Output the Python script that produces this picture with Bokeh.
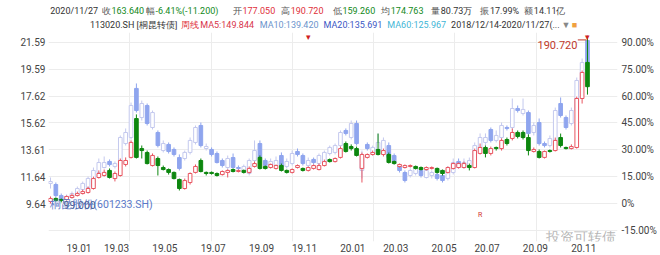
from bokeh.plotting import figure
from bokeh.layouts import column
from bokeh.models import (Range1d, LinearAxis, FixedTicker, Label, ColumnDataSource,
                          CustomJSTickFormatter, Grid)
from bokeh.embed import file_html
from bokeh.resources import INLINE

# ---------------- data ----------------
bond_open = [100.1, 101.8, 101.2, 101.2, 102.3, 103.4, 104.5, 105.1, 107.3, 113.4,
             114.5, 117.3, 112.8, 114.5, 120.6, 124.5, 146.0, 129.4, 127.2, 120.0,
             123.9, 118.9, 117.8, 116.2, 112.3, 107.3, 110.6, 116.2, 122.8, 116.2,
             116.2, 115.6, 115.0, 116.2, 117.8, 116.7, 117.3, 116.2, 119.5, 124.5,
             119.5, 118.9, 118.4, 120.0, 117.3, 116.2, 118.9, 118.4, 117.3, 118.4,
             117.8, 120.0, 123.3, 122.2, 124.5, 132.2, 130.5, 129.4, 118.4, 124.5,
             126.1, 128.9, 126.1, 126.1, 122.2, 119.5, 118.9, 119.5, 119.5, 118.9,
             117.8, 118.4, 118.4, 117.3, 116.2, 118.4, 118.9, 118.9, 120.0, 118.9,
             126.7, 130.0, 126.7, 130.0, 129.4, 134.4, 135.0, 138.3, 138.3, 135.5,
             127.8, 127.8, 124.5, 128.3, 128.3, 135.5, 130.0, 129.4, 130.0, 157.1,
             177.05]
bond_close = [101.8, 100.7, 100.7, 102.9, 103.4, 104.5, 105.6, 107.3, 112.8, 115.6,
              116.2, 113.4, 115.6, 122.8, 122.8, 132.8, 124.5, 128.3, 121.1, 125.6,
              120.0, 117.8, 116.2, 112.8, 107.3, 111.7, 115.6, 119.5, 116.7, 115.6,
              115.6, 114.5, 116.7, 117.3, 116.7, 117.3, 116.2, 118.4, 121.1, 118.4,
              118.4, 120.6, 120.0, 117.3, 116.2, 117.8, 120.0, 117.3, 118.9, 120.0,
              120.0, 122.2, 122.2, 123.9, 129.4, 127.8, 129.4, 125.6, 126.1, 126.1,
              127.2, 126.1, 128.3, 121.7, 121.1, 120.6, 120.0, 120.0, 118.4, 117.8,
              118.9, 118.9, 116.2, 115.6, 118.9, 121.1, 121.1, 121.1, 118.9, 128.3,
              130.0, 126.7, 129.4, 129.4, 133.9, 132.2, 138.3, 136.1, 135.5, 128.3,
              128.9, 124.5, 127.8, 127.8, 133.9, 131.1, 129.4, 130.5, 157.1, 171.5,
              163.64]
bond_high = [102.9, 102.3, 101.8, 103.4, 104.5, 105.6, 106.7, 108.4, 113.9, 117.3,
             117.8, 118.4, 116.7, 123.9, 124.5, 133.9, 148.3, 131.1, 128.3, 126.7,
             125.0, 120.0, 118.4, 116.7, 112.8, 112.8, 116.2, 120.6, 123.9, 116.7,
             116.7, 116.2, 117.3, 117.8, 118.4, 117.8, 117.8, 119.5, 122.2, 125.6,
             120.0, 121.1, 120.6, 121.1, 117.8, 118.4, 120.6, 118.9, 119.5, 120.6,
             121.1, 123.3, 123.9, 124.5, 130.5, 133.3, 131.7, 130.5, 127.2, 126.7,
             128.3, 137.7, 129.4, 127.2, 122.8, 121.1, 120.6, 120.6, 120.0, 119.5,
             119.5, 119.5, 118.9, 117.8, 119.5, 121.7, 121.7, 122.2, 121.1, 129.4,
             132.2, 131.1, 130.5, 130.5, 135.0, 135.5, 140.5, 139.4, 139.4, 137.2,
             130.0, 128.9, 128.3, 128.9, 135.5, 137.7, 130.5, 131.7, 158.2, 172.6,
             190.72]
bond_low = [99.0, 100.1, 99.6, 100.7, 101.8, 102.9, 104.0, 104.5, 106.7, 112.8,
            113.9, 112.8, 111.2, 113.9, 119.5, 123.9, 123.9, 123.9, 120.6, 119.5,
            114.5, 117.3, 115.0, 112.3, 106.2, 106.7, 109.5, 115.6, 116.2, 114.5,
            115.0, 113.9, 114.5, 113.4, 116.2, 116.2, 115.6, 115.6, 118.9, 117.8,
            117.8, 118.4, 117.8, 116.7, 115.6, 115.6, 118.4, 116.7, 116.7, 117.8,
            117.3, 119.5, 121.7, 121.7, 123.9, 127.2, 128.3, 125.0, 110.6, 123.9,
            125.6, 125.6, 125.0, 121.1, 120.6, 118.9, 118.4, 118.9, 117.8, 117.3,
            117.3, 117.8, 115.6, 114.5, 115.6, 117.8, 118.4, 118.4, 117.3, 118.4,
            126.1, 124.5, 125.6, 128.3, 128.3, 131.1, 133.9, 135.0, 134.4, 125.6,
            127.2, 123.9, 123.9, 127.2, 127.8, 130.0, 128.9, 128.9, 129.4, 154.3,
            159.26]

stock_open = [11.13, 11.05, 10.23, 9.94, 10.09, 10.31, 10.68, 10.83, 10.98, 11.94,
              12.31, 12.76, 12.39, 12.61, 14.09, 14.54, 18.18, 16.02, 16.91, 15.28,
              14.91, 13.57, 14.02, 13.65, 13.05, 12.98, 13.43, 14.17, 15.43, 13.72,
              13.65, 13.35, 12.83, 12.31, 13.05, 12.31, 12.09, 11.87, 12.83, 14.09,
              12.83, 12.39, 12.46, 13.20, 12.39, 12.61, 13.50, 13.20, 12.46, 12.91,
              12.61, 12.68, 13.35, 13.43, 13.94, 15.06, 14.54, 15.58, 12.09, 14.02,
              13.35, 13.57, 13.57, 13.94, 13.20, 12.39, 11.94, 11.72, 11.87, 12.09,
              11.57, 11.72, 11.79, 11.72, 11.50, 11.94, 12.76, 12.31, 12.46, 12.83,
              13.80, 14.17, 15.13, 14.32, 14.54, 15.28, 15.28, 16.69, 16.32, 16.39,
              14.91, 15.65, 14.09, 13.94, 14.32, 17.06, 16.02, 15.58, 16.54, 18.77,
              21.74]
stock_close = [11.27, 10.23, 9.94, 10.16, 10.38, 10.75, 11.13, 11.50, 12.09, 12.68,
               12.68, 12.53, 12.61, 14.54, 14.91, 16.91, 16.54, 17.06, 15.58, 16.39,
               13.94, 14.09, 13.50, 13.28, 12.24, 13.43, 14.32, 15.28, 13.94, 13.87,
               13.28, 12.68, 12.46, 12.98, 12.31, 12.24, 12.39, 12.83, 13.57, 13.05,
               12.46, 12.76, 12.83, 12.39, 12.76, 13.35, 13.28, 12.61, 12.83, 12.68,
               13.20, 13.43, 13.80, 13.94, 14.91, 14.84, 15.58, 14.09, 13.20, 13.72,
               13.80, 14.17, 14.32, 13.05, 12.68, 12.09, 11.35, 12.09, 12.24, 11.72,
               12.09, 11.94, 11.50, 11.35, 12.09, 12.68, 12.39, 12.68, 12.83, 13.94,
               14.54, 14.54, 14.32, 14.69, 15.43, 15.21, 16.69, 16.54, 16.62, 14.84,
               15.43, 14.09, 13.94, 14.46, 16.54, 16.17, 15.28, 16.54, 18.77, 20.10,
               20.10]
stock_high = [11.57, 11.20, 10.38, 10.31, 10.53, 10.90, 11.27, 11.64, 12.31, 12.98,
              13.13, 12.91, 12.76, 14.69, 15.21, 17.13, 18.55, 17.28, 17.06, 16.54,
              15.06, 14.32, 14.17, 13.80, 13.28, 13.57, 14.54, 15.43, 15.65, 14.09,
              13.80, 13.50, 12.98, 13.20, 13.35, 12.46, 12.53, 12.98, 14.32, 14.32,
              12.98, 12.98, 13.13, 13.43, 12.98, 13.57, 13.72, 13.35, 13.05, 13.05,
              13.35, 13.57, 13.94, 14.09, 15.06, 15.21, 15.80, 15.80, 13.57, 14.17,
              13.94, 14.84, 14.54, 14.17, 13.35, 12.53, 12.09, 12.24, 12.39, 12.24,
              12.24, 12.09, 11.94, 11.87, 12.39, 12.98, 12.98, 12.98, 13.05, 14.17,
              14.84, 14.84, 15.28, 15.06, 15.65, 15.43, 17.43, 16.91, 17.43, 16.54,
              15.65, 15.95, 14.24, 14.69, 16.76, 17.51, 16.17, 16.76, 18.99, 20.40,
              22.11]
stock_low = [10.75, 10.09, 9.79, 9.79, 10.01, 10.23, 10.60, 10.75, 10.90, 11.87,
             12.24, 12.39, 12.24, 12.53, 13.94, 14.39, 16.39, 15.80, 15.43, 15.13,
             13.80, 13.43, 13.35, 13.13, 12.09, 12.83, 13.28, 14.02, 13.80, 13.57,
             13.13, 12.61, 12.31, 12.09, 12.24, 12.09, 11.94, 11.72, 12.68, 12.83,
             12.31, 12.24, 12.39, 12.24, 12.24, 12.46, 13.13, 12.46, 12.31, 12.53,
             12.46, 12.61, 13.20, 13.28, 13.80, 14.69, 14.39, 13.94, 11.50, 13.57,
             13.20, 13.43, 13.43, 12.83, 12.53, 11.94, 11.20, 11.57, 11.72, 11.57,
             11.50, 11.50, 11.35, 11.20, 11.35, 11.79, 12.24, 12.24, 12.31, 12.68,
             13.65, 13.94, 14.17, 14.17, 14.39, 15.06, 15.13, 16.39, 16.17, 14.69,
             14.69, 13.94, 13.80, 13.80, 14.17, 16.02, 15.13, 15.43, 16.39, 18.62,
             19.88]

month_idx = [3, 10, 19, 28, 37, 45, 54, 62, 71, 79, 88, 97]
month_labels = ["19.01", "19.03", "19.05", "19.07", "19.09", "19.11",
                "20.01", "20.03", "20.05", "20.07", "20.09", "20.11"]
pct_ticks = [-15, 0, 15, 30, 45, 60, 75, 90]
stock_ticks = [9.64, 11.64, 13.61, 15.62, 17.62, 19.59, 21.59]
flag_idx = [48, 100]

BOND_BASE = 99.0          # 0% level of the right axis
STOCK_AT_0, STOCK_AT_90 = 9.64, 21.59

# ---------------- layout constants ----------------
W = 660
HH = 32                     # header height
MH = 255 - HH               # main figure height
FL, FR = 48, 617            # frame x edges
MB = 14                     # bottom border of main figure
PCT_LO, PCT_HI = -21.24, 95.58
X_LO, X_HI = -0.37, 105.59
LABEL_SHIFT = 2.3           # month labels start at their week

RED = "#e0303a"
GREEN = "#12891a"
BOND_UP = "#e85560"
BOND_DN = "#0d870f"
STK_UP = "#c4c9ee"
STK_DN = "#8fa5ee"
GRID = "#ececec"
FONT = "Roboto"
FS = "10px"
HFS = "9px"

# ---------------- header ----------------
hd = figure(width=W, height=HH, output_backend="svg", toolbar_location=None,
            x_range=Range1d(0, W), y_range=Range1d(HH, 0),
            min_border_left=0, min_border_right=0, min_border_top=0, min_border_bottom=0)
hd.axis.visible = False
hd.grid.visible = False
hd.outline_line_color = None

def hlab(xc, yc, text, color, size=HFS, align="left"):
    hd.add_layout(Label(x=xc, y=yc, text=text, text_align=align, text_baseline="middle",
                        text_font=FONT, text_font_size=size, text_color=color))

GRAY = "#555555"
DARK = "#333333"
row1 = [(2, "2020/11/27", DARK), (62, "收", GRAY), (73, "163.640", GREEN),
        (113, "幅", GRAY), (124, "-6.41%(-11.200)", GREEN),
        (214, "开", GRAY), (225, "177.050", RED),
        (270, "高", GRAY), (281, "190.720", RED),
        (330, "低", GRAY), (341, "159.260", GREEN),
        (386, "均", GRAY), (397, "174.763", GREEN),
        (444, "量", GRAY), (455, "80.73万", DARK),
        (501, "振", GRAY), (512, "17.99%", DARK),
        (552, "额", GRAY), (563, "14.11亿", DARK)]
for xc, t, c in row1:
    hlab(xc, 10, t, c)

row2 = [(48, "113020.SH [桐昆转债]", DARK), (154, "周线", RED),
        (176, "MA5:149.844", "#d8344a"), (245, "MA10:139.420", "#6c94cc"),
        (319, "MA20:135.691", "#3a56c4"), (393, "MA60:125.967", "#3fb6d6"),
        (467, "2018/12/14-2020/11/27(...", DARK), (595, "▼", "#888888"),
        (607, "■", "#f0a040")]
for xc, t, c in row2:
    hlab(xc, 24, t, c)

# ---------------- main chart ----------------
p = figure(width=W, height=MH, output_backend="svg", toolbar_location=None,
           x_range=Range1d(X_LO, X_HI), y_range=Range1d(PCT_LO, PCT_HI),
           y_axis_location="right",
           min_border_left=FL, min_border_right=W - FR,
           min_border_top=0, min_border_bottom=MB)
p.outline_line_color = None
p.background_fill_color = "white"
p.border_fill_color = "white"

def s_of(pct):
    return STOCK_AT_0 + (STOCK_AT_90 - STOCK_AT_0) / 90.0 * pct

p.extra_y_ranges = {
    "bond": Range1d(BOND_BASE * (1 + PCT_LO / 100), BOND_BASE * (1 + PCT_HI / 100)),
    "stock": Range1d(s_of(PCT_LO), s_of(PCT_HI)),
}

p.xgrid.visible = False
p.ygrid.ticker = FixedTicker(ticks=pct_ticks)
p.ygrid.grid_line_color = GRID
vg = [X_LO + k * (X_HI - X_LO) / 7 for k in range(8)]
p.add_layout(Grid(dimension=0, ticker=FixedTicker(ticks=vg), grid_line_color=GRID))

ra = p.yaxis[0]
ra.ticker = FixedTicker(ticks=pct_ticks)
ra.formatter = CustomJSTickFormatter(code="return tick == 0 ? '0%' : tick.toFixed(2) + '%';")

la = LinearAxis(y_range_name="stock", ticker=FixedTicker(ticks=stock_ticks),
                formatter=CustomJSTickFormatter(code="return tick.toFixed(2);"))
p.add_layout(la, "left")

ba = p.xaxis[0]
ba.ticker = FixedTicker(ticks=[i + LABEL_SHIFT for i in month_idx])
ba.formatter = CustomJSTickFormatter(args=dict(idx=month_idx, labs=month_labels, sh=LABEL_SHIFT),
                                     code="const k = idx.indexOf(Math.round(tick - sh)); return k >= 0 ? labs[k] : '';")

for ax in (ra, la, ba):
    ax.axis_line_color = None
    ax.major_tick_line_color = None
    ax.minor_tick_line_color = None
    ax.major_tick_out = 0
    ax.major_tick_in = 0
    ax.minor_tick_out = 0
    ax.minor_tick_in = 0
    ax.major_label_text_font = FONT
    ax.major_label_text_font_size = FS
    ax.major_label_text_color = "#444444"
ra.major_label_standoff = 4
la.major_label_standoff = 3
ba.major_label_standoff = 2

# ---------------- candles ----------------
n = len(bond_open)
xs = list(range(n))

def split(o, h, l, c):
    up = dict(x=[], h=[], l=[], top=[], bot=[])
    dn = dict(x=[], h=[], l=[], top=[], bot=[])
    for i in range(n):
        d = up if c[i] >= o[i] else dn
        d["x"].append(xs[i]); d["h"].append(h[i]); d["l"].append(l[i])
        d["top"].append(max(o[i], c[i])); d["bot"].append(min(o[i], c[i]))
    return ColumnDataSource(up), ColumnDataSource(dn)

BW = 0.68
s_up, s_dn = split(stock_open, stock_high, stock_low, stock_close)
p.segment(x0="x", y0="h", x1="x", y1="l", source=s_up, color=STK_UP, line_width=1, y_range_name="stock")
p.segment(x0="x", y0="h", x1="x", y1="l", source=s_dn, color=STK_DN, line_width=1, y_range_name="stock")
p.vbar(x="x", top="top", bottom="bot", width=BW, source=s_up, fill_color="white",
       line_color=STK_UP, line_width=1, y_range_name="stock")
p.vbar(x="x", top="top", bottom="bot", width=BW, source=s_dn, fill_color=STK_DN,
       line_color=STK_DN, line_width=1, y_range_name="stock")

b_up, b_dn = split(bond_open, bond_high, bond_low, bond_close)
p.segment(x0="x", y0="h", x1="x", y1="l", source=b_up, color=BOND_UP, line_width=1, y_range_name="bond")
p.segment(x0="x", y0="h", x1="x", y1="l", source=b_dn, color=BOND_DN, line_width=1, y_range_name="bond")
p.vbar(x="x", top="top", bottom="bot", width=BW, source=b_up, fill_color="white",
       line_color=BOND_UP, line_width=1, y_range_name="bond")
p.vbar(x="x", top="top", bottom="bot", width=BW, source=b_dn, fill_color=BOND_DN,
       line_color=BOND_DN, line_width=1, y_range_name="bond")

# max / min markers
i_hi = max(range(n), key=lambda i: bond_high[i])
i_lo = min(range(n), key=lambda i: bond_low[i])
p.segment(x0=[i_hi - 1.8], y0=[bond_high[i_hi] - 1.2], x1=[i_hi - 0.2], y1=[bond_high[i_hi] - 1.2],
          color="#c0392b", line_width=1, y_range_name="bond")
p.add_layout(Label(x=i_hi, y=bond_high[i_hi], y_range_name="bond", text="%.3f" % bond_high[i_hi],
                   x_offset=-10, y_offset=-7, text_align="right", text_baseline="middle",
                   text_font=FONT, text_font_size="11px", text_color="#c0392b"))
p.add_layout(Label(x=X_LO, y=bond_low[i_lo], y_range_name="bond", text="桐昆股份(601233.SH)",
                   x_offset=1, y_offset=-1, text_align="left", text_baseline="middle",
                   text_font=FONT, text_font_size="10.5px", text_color="#5a78c8"))
p.add_layout(Label(x=i_lo, y=bond_low[i_lo], y_range_name="bond", text="%.3f" % bond_low[i_lo],
                   x_offset=13, y_offset=-1, text_align="left", text_baseline="middle",
                   text_font=FONT, text_font_size="10.5px", text_color="#4a5f9a"))

for fi in flag_idx:
    p.add_layout(Label(x=fi, y=PCT_HI, text="▾", text_align="center", text_baseline="top",
                       y_offset=1, text_font=FONT, text_font_size="9px", text_color="#d02020"))
p.add_layout(Label(x=80, y=-6.2, text="R", text_align="center", text_baseline="middle",
                   text_font=FONT, text_font_size="7px", text_color="#d03030"))

# watermark (kept inside the plotting area)
p.add_layout(Label(x=FR - FL - 2, y=241 - 236, x_units="screen", y_units="screen", text="投资可转债",
                   text_align="right", text_baseline="middle", text_font=FONT,
                   text_font_size="14px", text_color="#a8a8a8", text_alpha=0.85))

open("out.html", "w").write(file_html(column(hd, p, spacing=0), INLINE))
